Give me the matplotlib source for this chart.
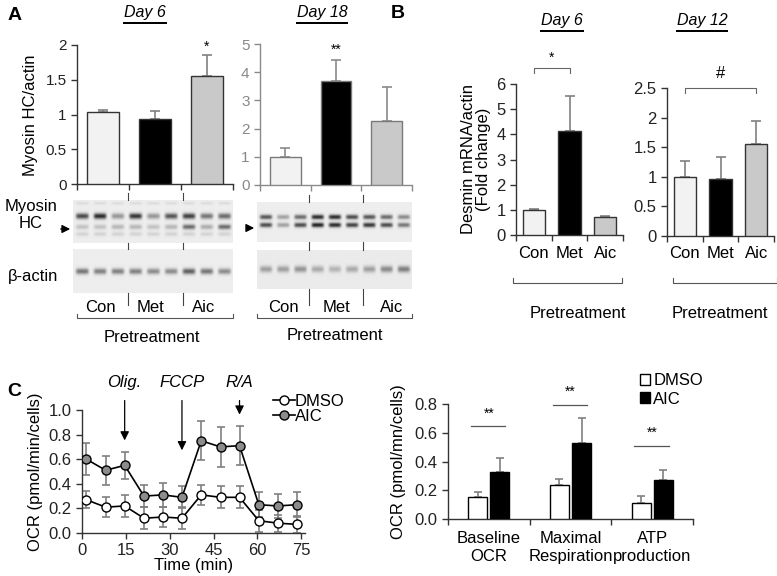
import numpy as np
import matplotlib.pyplot as plt
from matplotlib.patches import Rectangle
from matplotlib.textpath import TextPath
from matplotlib.font_manager import FontProperties

plt.rcParams['font.family'] = ['Liberation Sans', 'DejaVu Sans']

W, H = 777, 576

# ---------------- data ----------------
groups = ['Con', 'Met', 'Aic']
bar_colors = ['#f2f2f2', '#000000', '#c9c9c9']

myosin_d6 = [1.03, 0.93, 1.55]
myosin_d6_err = [0.04, 0.12, 0.31]
myosin_d18 = [1.0, 3.69, 2.27]
myosin_d18_err = [0.30, 0.73, 1.21]

desmin_d6 = [1.01, 4.15, 0.72]
desmin_d6_err = [0.03, 1.36, 0.05]
desmin_d12 = [1.0, 0.96, 1.55]
desmin_d12_err = [0.27, 0.37, 0.40]

time_min = [1.5, 8.1, 14.6, 21.2, 27.7, 34.2, 40.8, 47.4, 53.9, 60.5, 67.0, 73.6]
ocr_dmso = [0.27, 0.21, 0.22, 0.12, 0.13, 0.12, 0.31, 0.29, 0.29, 0.10, 0.08, 0.07]
ocr_dmso_sd = [0.07, 0.08, 0.09, 0.09, 0.08, 0.09, 0.08, 0.09, 0.09, 0.09, 0.07, 0.07]
ocr_aic = [0.60, 0.51, 0.55, 0.30, 0.31, 0.29, 0.75, 0.70, 0.71, 0.23, 0.22, 0.23]
ocr_aic_sd = [0.13, 0.12, 0.11, 0.09, 0.10, 0.09, 0.16, 0.16, 0.16, 0.10, 0.10, 0.10]
inj_times = [14.6, 34.2, 53.9]
inj_labels = ['Olig.', 'FCCP', 'R/A']
inj_tips = [0.73, 0.65, 0.94]

resp_cats = ['Baseline\nOCR', 'Maximal\nRespiration', 'ATP\nproduction']
resp_dmso = [0.155, 0.24, 0.11]
resp_dmso_err = [0.035, 0.04, 0.05]
resp_aic = [0.33, 0.53, 0.27]
resp_aic_err = [0.095, 0.175, 0.07]

# western blot lane intensities (3 lanes per group)
blot6_upper = [0.75, 0.9, 0.4, 0.85, 0.4, 0.7, 0.8, 0.55, 0.6]
blot6_lower = [0.2, 0.2, 0.25, 0.25, 0.2, 0.25, 0.6, 0.3, 0.6]
actin6 = [0.55, 0.5, 0.5, 0.5, 0.45, 0.45, 0.65, 0.55, 0.45]
blot18_upper = [0.7, 0.35, 0.6, 0.9, 0.9, 0.75, 0.7, 0.6, 0.45]
blot18_lower = [0.75, 0.35, 0.75, 0.95, 0.9, 0.8, 0.85, 0.75, 0.55]
actin18 = [0.35, 0.35, 0.4, 0.3, 0.25, 0.3, 0.35, 0.45, 0.5]

fig = plt.figure(figsize=(W / 100, H / 100), dpi=100)


def px_axes(x0, y0, x1, y1, **kw):
    return fig.add_axes([x0 / W, 1 - y1 / H, (x1 - x0) / W, (y1 - y0) / H], **kw)


ov = px_axes(0, 0, W, H)
ov.set_xlim(0, W)
ov.set_ylim(H, 0)
ov.axis('off')
ov.set_zorder(5)


def txt(x, y, s, **kw):
    kw.setdefault('ha', 'center')
    kw.setdefault('va', 'center')
    kw.setdefault('fontsize', 12)
    return ov.text(x, y, s, **kw)


def under_title(x, y, s, size=11.5):
    txt(x, y, s, style='italic', fontsize=size)
    fp = FontProperties(family='Liberation Sans', style='italic')
    w = TextPath((0, 0), s, size=size * 100 / 72, prop=fp).get_extents().width
    fig.patches.append(Rectangle(((x - w / 2 - 1) / W, 1 - (y + 10.5) / H), (w + 2) / W, 1.3 / H,
                                 transform=fig.transFigure, facecolor='k',
                                 edgecolor='none', figure=fig, zorder=20))


def style_axes(ax, col):
    for s in ['top', 'right']:
        ax.spines[s].set_visible(False)
    for s in ['left', 'bottom']:
        ax.spines[s].set_color(col)
        ax.spines[s].set_linewidth(1.0)
    ax.tick_params(colors=col, direction='out', length=4, width=1.0)
    ax.patch.set_alpha(0)


def group_bars(ax, vals, errs, col, ecol, width=0.6):
    x = np.arange(len(vals)) + 0.5
    ax.bar(x, vals, width, color=bar_colors, edgecolor=col, linewidth=1.0, zorder=3)
    ax.errorbar(x, vals, yerr=[np.zeros(len(errs)), errs], fmt='none',
                ecolor=ecol, elinewidth=1.2, capsize=3.5, capthick=1.2, zorder=2)
    ax.set_xlim(0, 3)
    ax.set_xticks([0, 1, 2, 3])
    ax.set_xticklabels([])
    return x


# ---------------- panel A ----------------
txt(15, 15, 'A', fontweight='bold', fontsize=14)
a6 = px_axes(77, 45, 233, 184)
style_axes(a6, '#333333')
xa6 = group_bars(a6, myosin_d6, myosin_d6_err, '#333333', '#808080')
a6.set_ylim(0, 2)
a6.set_yticks([0, 0.5, 1, 1.5, 2])
a6.set_yticklabels(['0', '0.5', '1', '1.5', '2'], fontsize=11, color='#222222')
a6.text(xa6[2], 1.98, '*', ha='center', va='center', fontsize=10)
ov.text(30, 115, 'Myosin HC/actin', rotation=90, ha='center', va='center', fontsize=12)
under_title(145, 13, 'Day 6')

a18 = px_axes(260, 44, 412, 185)
style_axes(a18, '#8a8a8a')
xa18 = group_bars(a18, myosin_d18, myosin_d18_err, '#7a7a7a', '#8a8a8a')
a18.set_ylim(0, 5)
a18.set_yticks([0, 1, 2, 3, 4, 5])
a18.set_yticklabels(['0', '1', '2', '3', '4', '5'], fontsize=11, color='#888888')
a18.text(xa18[1], 4.8, '**', ha='center', va='center', fontsize=10)
under_title(322, 13, 'Day 18')


def blot(x0, y0, x1, y1, bands, bg=0.93):
    ny, nx = 60, 180
    img = np.full((ny, nx), bg)
    yy = np.arange(ny)[:, None]
    xx = np.arange(nx)[None, :]
    lane_w = nx / 9
    for inten, yc, sy in bands:
        for i, v in enumerate(inten):
            xc = (i + 0.5) * lane_w
            prof = np.exp(-((xx - xc) / (lane_w * 0.36)) ** 6)
            img -= v * 0.85 * prof * np.exp(-((yy - yc) / sy) ** 2)
    ax = px_axes(x0, y0, x1, y1)
    ax.imshow(np.clip(img, 0, 1), cmap='gray', vmin=0, vmax=1, aspect='auto',
              interpolation='bilinear')
    ax.set_xticks([])
    ax.set_yticks([])
    for s in ax.spines.values():
        s.set_visible(False)
    return ax


blot(73, 200, 233, 243, [(blot6_upper, 22, 4.0), (blot6_lower, 37, 3.5),
                         ([0.12] * 9, 47, 3.0), ([0.08] * 9, 4, 2.0)])
blot(73, 249, 233, 293, [(actin6, 30, 4.0)])
blot(257, 202, 412, 242, [(blot18_upper, 22, 3.5), (blot18_lower, 34, 3.5)])
blot(257, 250, 412, 289, [(actin18, 29, 5.0)], bg=0.92)

txt(31, 215, 'Myosin\nHC', linespacing=1.1)
ov.annotate('', xy=(73, 229), xytext=(58, 229),
            arrowprops=dict(arrowstyle='-|>', color='k', lw=1, mutation_scale=12))
ov.annotate('', xy=(257, 228), xytext=(246, 228),
            arrowprops=dict(arrowstyle='-|>', color='k', lw=1, mutation_scale=12))
txt(33, 276, 'β-actin')

for sep in [128, 183]:
    ov.plot([sep, sep], [193, 200], color='#444444', lw=0.8)
    ov.plot([sep, sep], [243, 249], color='#444444', lw=0.8)
    ov.plot([sep, sep], [293, 305], color='#444444', lw=0.8)
for sep in [309, 363]:
    ov.plot([sep, sep], [195, 202], color='#444444', lw=0.8)
    ov.plot([sep, sep], [242, 250], color='#444444', lw=0.8)
    ov.plot([sep, sep], [289, 305], color='#444444', lw=0.8)

for cx, g in zip([100, 151, 204], groups):
    txt(cx, 308, g)
for cx, g in zip([283, 336, 392], groups):
    txt(cx, 307, g)
ov.plot([77, 77, 233, 233], [314, 318, 318, 314], color='#555555', lw=0.8)
ov.plot([257, 257, 412, 412], [314, 318, 318, 314], color='#555555', lw=0.8)
txt(152, 337, 'Pretreatment')
txt(335, 336, 'Pretreatment')

# ---------------- panel B ----------------
txt(398, 13, 'B', fontweight='bold', fontsize=14)
b6 = px_axes(516, 84, 623, 235)
style_axes(b6, '#333333')
xb6 = group_bars(b6, desmin_d6, desmin_d6_err, '#333333', '#808080', width=0.62)
b6.set_ylim(0, 6)
b6.set_yticks(range(7))
b6.set_yticklabels([str(v) for v in range(7)], fontsize=12, color='#222222')
b6.set_ylabel('Desmin mRNA/actin\n(Fold change)', fontsize=12, linespacing=0.95, labelpad=4)
b6.plot([xb6[0], xb6[0], xb6[1], xb6[1]], [6.45, 6.65, 6.65, 6.45],
        color='#666666', lw=0.8, clip_on=False)
b6.text((xb6[0] + xb6[1]) / 2, 7.05, '*', ha='center', va='center', fontsize=10)
under_title(562, 21, 'Day 6')
for cx, g in zip(xb6, groups):
    b6.text(cx, -0.72, g, ha='center', va='center', fontsize=12)

b12 = px_axes(667, 88, 774, 236)
style_axes(b12, '#333333')
xb12 = group_bars(b12, desmin_d12, desmin_d12_err, '#333333', '#808080', width=0.62)
b12.set_ylim(0, 2.5)
b12.set_yticks([0, 0.5, 1, 1.5, 2, 2.5])
b12.set_yticklabels(['0', '0.5', '1', '1.5', '2', '2.5'], fontsize=12, color='#222222')
b12.plot([xb12[0], xb12[0], xb12[2], xb12[2]], [2.42, 2.5, 2.5, 2.42],
         color='#666666', lw=0.8, clip_on=False)
b12.text(xb12[1], 2.74, '#', ha='center', va='center', fontsize=12)
under_title(702, 21, 'Day 12')
for cx, g in zip(xb12, groups):
    b12.text(cx, -0.3, g, ha='center', va='center', fontsize=12)

ov.plot([513, 513, 622, 622], [278, 283, 283, 278], color='#555555', lw=0.8)
ov.plot([673, 673, 777, 777], [278, 283, 283, 278], color='#555555', lw=0.8)
txt(578, 313, 'Pretreatment')
txt(720, 313, 'Pretreatment')

# ---------------- panel C (time course) ----------------
txt(14, 392, 'C', fontweight='bold', fontsize=14)
c1 = px_axes(82, 410, 305, 533)
style_axes(c1, '#333333')
c1.errorbar(time_min, ocr_aic, yerr=ocr_aic_sd, fmt='none', ecolor='#808080',
            elinewidth=1.2, capsize=3, capthick=1.2, zorder=2)
c1.errorbar(time_min, ocr_dmso, yerr=ocr_dmso_sd, fmt='none', ecolor='#808080',
            elinewidth=1.2, capsize=3, capthick=1.2, zorder=2)
c1.plot(time_min, ocr_dmso, '-o', color='k', lw=1.2, ms=6.5, mfc='white', mec='k',
        mew=1.0, zorder=4, label='DMSO')
c1.plot(time_min, ocr_aic, '-o', color='k', lw=1.2, ms=6.5, mfc='#8c8c8c', mec='k',
        mew=1.0, zorder=4, label='AIC')
c1.set_xlim(0, 76.3)
c1.set_ylim(0, 1.0)
c1.set_xticks([0, 15, 30, 45, 60, 75])
c1.set_yticks([0, 0.2, 0.4, 0.6, 0.8, 1.0])
c1.set_yticklabels(['%.1f' % v for v in [0, 0.2, 0.4, 0.6, 0.8, 1.0]])
c1.tick_params(labelsize=12, labelcolor='#222222')
c1.set_xlabel('Time (min)', fontsize=12, labelpad=0)
c1.set_ylabel('OCR (pmol/min/cells)', fontsize=12, labelpad=4)
for t, lab, tip in zip(inj_times, inj_labels, inj_tips):
    c1.annotate('', xy=(t, tip), xytext=(t, 1.1), xycoords='data', annotation_clip=False,
                arrowprops=dict(arrowstyle='-|>', color='k', lw=0.9, mutation_scale=13))
    c1.text(t, 1.22, lab, ha='center', va='center', style='italic', fontsize=12)
c1.legend(loc='upper left', bbox_to_anchor=(0.82, 1.2), frameon=False, fontsize=12,
          handlelength=1.3, handletextpad=0.0, borderpad=0, labelspacing=0.02)

# ---------------- panel C (bars) ----------------
c2 = px_axes(448, 404, 693, 519)
style_axes(c2, '#333333')
xc = np.arange(len(resp_cats)) + 0.5
bw = 0.23
c2.bar(xc - 0.135, resp_dmso, bw, color='white', edgecolor='k', lw=1.0, zorder=3, label='DMSO')
c2.bar(xc + 0.135, resp_aic, bw, color='black', edgecolor='k', lw=1.0, zorder=3, label='AIC')
c2.errorbar(xc - 0.135, resp_dmso, yerr=[np.zeros(3), resp_dmso_err], fmt='none',
            ecolor='#808080', elinewidth=1.2, capsize=3, capthick=1.2, zorder=2)
c2.errorbar(xc + 0.135, resp_aic, yerr=[np.zeros(3), resp_aic_err], fmt='none',
            ecolor='#808080', elinewidth=1.2, capsize=3, capthick=1.2, zorder=2)
c2.set_xlim(0, 3)
c2.set_ylim(0, 0.8)
c2.set_xticks([0, 1, 2, 3])
c2.set_xticklabels([])
c2.set_yticks([0, 0.2, 0.4, 0.6, 0.8])
c2.set_yticklabels(['%.1f' % v for v in [0, 0.2, 0.4, 0.6, 0.8]])
c2.tick_params(labelsize=12, labelcolor='#222222')
c2.set_ylabel('OCR (pmol/mn/cells)', fontsize=12, labelpad=6)
for cx, lab in zip(xc, resp_cats):
    c2.text(cx, -0.2, lab, ha='center', va='center', fontsize=12, linespacing=1.25)
sig_y = [0.645, 0.795, 0.51]
for cx, sy in zip(xc, sig_y):
    c2.plot([cx - 0.22, cx + 0.2], [sy, sy], color='#555555', lw=0.9, clip_on=False)
    c2.text(cx, sy + 0.09, '**', ha='center', va='center', fontsize=10)
c2.legend(loc='upper left', bbox_to_anchor=(0.75, 1.34), frameon=False, fontsize=12,
          handlelength=0.6, handleheight=0.6, handletextpad=0.2, borderpad=0,
          labelspacing=0.2)

fig.savefig('out.png', dpi=100)
